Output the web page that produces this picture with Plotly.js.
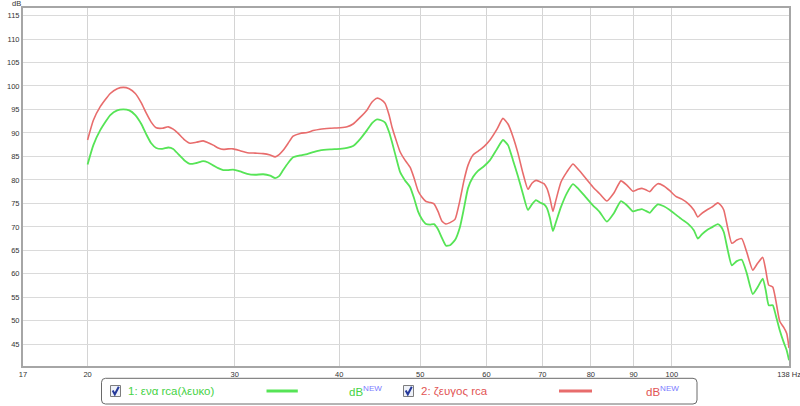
<!DOCTYPE html>
<html><head><meta charset="utf-8">
<script src="https://cdn.plot.ly/plotly-3.0.1.min.js"></script>
<style>html,body{margin:0;padding:0;background:#fff}#chart{width:800px;height:406px}</style>
</head><body><div id="chart"></div>
<script>
// Frequency (Hz)
const freq = [20.00,20.32,20.71,21.29,21.70,22.07,22.43,22.81,23.19,23.51,
23.83,24.16,24.57,24.98,25.32,25.67,26.10,26.53,26.98,27.50,
27.88,28.27,28.66,29.06,29.46,29.87,30.45,31.04,31.73,32.44,
33.07,33.53,33.90,34.28,34.75,35.23,35.92,36.62,37.23,37.95,
39.01,40.10,40.88,41.56,42.37,43.19,43.79,44.40,44.89,45.39,
45.89,46.27,46.78,47.30,47.95,48.62,49.16,49.70,50.25,50.81,
51.37,51.94,52.51,53.10,53.68,54.28,55.03,55.79,56.41,57.03,
57.83,58.63,59.60,60.60,61.78,62.80,63.68,64.56,65.45,66.36,
67.28,68.02,68.78,69.54,70.31,70.89,71.48,72.07,72.67,73.67,
74.90,76.15,77.41,78.92,80.46,82.02,83.62,85.25,86.91,88.35,
89.82,91.07,92.08,93.10,94.13,95.17,96.22,97.83,99.45,101.11,
102.80,104.51,106.25,107.42,108.61,110.12,111.64,113.50,114.45,115.39,
116.67,117.96,119.60,121.25,122.94,124.98,126.71,128.47,129.53,130.61,
132.05,133.15,134.62,136.11,137.24,138.11];

// 1: ενα rca(λευκο)  (dB)
const series1 = [83.3,87.4,90.6,93.8,94.8,95.0,94.8,93.8,91.9,89.7,
87.8,86.8,86.6,86.9,86.6,85.5,84.2,83.4,83.6,84.0,
83.7,83.1,82.5,82.1,82.1,82.2,81.8,81.3,81.1,81.2,
80.9,80.4,80.8,82.1,83.6,84.8,85.2,85.5,85.9,86.3,
86.5,86.6,86.8,87.2,88.7,90.6,92.1,92.9,92.7,92.2,
90.2,88.0,84.8,81.7,79.9,78.5,76.1,73.3,71.6,70.6,
70.5,70.6,69.5,67.6,66.0,66.1,67.2,70.0,74.0,78.2,
80.6,81.9,82.9,84.2,86.6,88.5,87.4,84.2,80.8,77.0,
73.6,74.8,75.7,75.2,74.8,74.0,71.9,69.1,71.0,74.2,
77.2,79.1,78.0,76.3,74.6,73.1,71.1,72.9,75.5,74.6,
73.3,73.6,73.8,73.4,73.0,74.0,74.8,74.4,73.6,72.6,
71.6,70.7,69.3,67.5,68.4,69.3,69.9,70.6,70.1,68.9,
65.0,61.8,62.7,63.0,60.1,55.7,57.2,59.0,56.5,53.3,
53.3,51.2,48.0,45.4,43.7,41.6];

// 2: ζευγος rca  (dB)
const series2 = [88.5,92.7,95.6,98.4,99.4,99.7,99.4,98.4,96.4,94.2,
92.3,91.1,91.0,91.3,90.8,89.9,88.6,87.8,88.0,88.3,
87.9,87.4,86.8,86.5,86.6,86.6,86.2,85.8,85.7,85.6,
85.3,84.9,85.4,86.3,87.8,89.3,89.9,90.1,90.5,90.8,
91.0,91.1,91.3,91.9,93.3,94.9,96.6,97.4,97.1,96.3,
93.8,91.2,88.5,86.0,84.2,82.7,80.4,77.7,76.3,75.4,
75.2,74.9,73.3,71.2,70.6,70.9,71.6,75.7,79.9,83.1,
85.3,86.1,87.1,88.5,90.8,93.1,91.9,89.2,85.7,81.4,
78.0,79.3,79.9,79.6,79.2,78.2,76.1,73.3,75.7,79.5,
81.7,83.4,82.1,80.3,78.5,77.0,75.5,77.2,79.8,78.9,
77.6,78.0,78.2,77.9,77.5,78.5,79.2,78.7,77.7,76.5,
75.9,75.0,73.6,72.1,72.9,73.6,74.2,75.1,74.6,73.6,
69.7,66.5,67.2,67.5,64.6,60.8,62.3,63.5,60.8,57.6,
57.2,54.4,49.9,48.6,47.3,44.2];

const seriesNames = ['1: ενα rca(λευκο)', '2: ζευγος rca'];
const unitLabel = 'dB<sup><span style="color:#7a7aff">NEW</span></sup>';
const xTickVals = [16.74, 20, 30, 40, 50, 60, 70, 80, 90, 100, 138.1];
const xTickText = ['17', '20', '30', '40', '50', '60', '70', '80', '90', '100', '138 Hz'];
const yTickVals = [45, 50, 55, 60, 65, 70, 75, 80, 85, 90, 95, 100, 105, 110, 115];

const GREEN = 'rgb(86,228,86)', RED = 'rgb(232,108,108)';
const GREEN_T = 'rgb(70,210,70)', RED_T = 'rgb(226,84,84)';

const W = 800, H = 406, L = 23, R = 11, T = 8, B = 40;
const pw = W - L - R, ph = H - T - B;
const PX = x => (x - L) / pw;
const PY = y => (H - B - y) / ph;

function roundRect(x1, y1, x2, y2, r) {
  const a = (x, y) => PX(x) + ',' + PY(y);
  return 'M' + a(x1 + r, y1) + ' L' + a(x2 - r, y1) + ' Q' + a(x2, y1) + ' ' + a(x2, y1 + r) +
    ' L' + a(x2, y2 - r) + ' Q' + a(x2, y2) + ' ' + a(x2 - r, y2) +
    ' L' + a(x1 + r, y2) + ' Q' + a(x1, y2) + ' ' + a(x1, y2 - r) +
    ' L' + a(x1, y1 + r) + ' Q' + a(x1, y1) + ' ' + a(x1 + r, y1) + ' Z';
}
function checkbox(x) {
  return [
    {type: 'rect', xref: 'paper', yref: 'paper', x0: PX(x), x1: PX(x + 10), y0: PY(385.5), y1: PY(396.5),
     line: {color: '#7d7d7d', width: 1}, fillcolor: '#eef1f8'},
    {type: 'path', xref: 'paper', yref: 'paper',
     path: 'M' + PX(x + 2.2) + ',' + PY(390.5) + ' L' + PX(x + 4.3) + ',' + PY(394.3) + ' L' + PX(x + 8.3) + ',' + PY(386.8),
     line: {color: '#25399a', width: 2}}
  ];
}

const shapes = [
  {type: 'path', xref: 'paper', yref: 'paper', path: roundRect(101.5, 378.3, 697, 404, 4),
   line: {color: '#6a6a6a', width: 1}, fillcolor: 'rgba(0,0,0,0)'},
  ...checkbox(110.5), ...checkbox(403.5),
  {type: 'line', xref: 'paper', yref: 'paper', x0: PX(266.5), x1: PX(297.8), y0: PY(391), y1: PY(391),
   line: {color: GREEN, width: 3}},
  {type: 'line', xref: 'paper', yref: 'paper', x0: PX(559), x1: PX(592), y0: PY(391), y1: PY(391),
   line: {color: RED, width: 3}}
];

const legFont = {family: 'Liberation Sans, Arial, sans-serif', size: 11.5};
const annotations = [
  {xref: 'paper', yref: 'paper', x: PX(126), y: PY(391), xanchor: 'left', yanchor: 'middle', showarrow: false,
   text: seriesNames[0], font: Object.assign({}, legFont, {color: GREEN_T})},
  {xref: 'paper', yref: 'paper', x: PX(347), y: PY(391), xanchor: 'left', yanchor: 'middle', showarrow: false,
   text: unitLabel, font: Object.assign({}, legFont, {color: GREEN_T})},
  {xref: 'paper', yref: 'paper', x: PX(419), y: PY(391), xanchor: 'left', yanchor: 'middle', showarrow: false,
   text: seriesNames[1], font: Object.assign({}, legFont, {color: RED_T})},
  {xref: 'paper', yref: 'paper', x: PX(644), y: PY(391), xanchor: 'left', yanchor: 'middle', showarrow: false,
   text: unitLabel, font: Object.assign({}, legFont, {color: RED_T})},
  {xref: 'paper', yref: 'paper', x: PX(16.5), y: PY(3.5), xanchor: 'center', yanchor: 'middle', showarrow: false,
   text: 'dB', font: {family: 'Liberation Sans, Arial, sans-serif', size: 7.5, color: '#333'}}
];

const traces = [
  {x: freq, y: series1, type: 'scatter', mode: 'lines', name: seriesNames[0],
   line: {color: GREEN, width: 1.8, shape: 'spline', smoothing: 0.5}},
  {x: freq, y: series2, type: 'scatter', mode: 'lines', name: seriesNames[1],
   line: {color: RED, width: 1.6, shape: 'spline', smoothing: 0.5}}
];

const tickFont = {family: 'Liberation Sans, Arial, sans-serif', size: 7.5, color: '#333'};
const layout = {
  width: W, height: H,
  margin: {l: L, r: R, t: T, b: B, pad: 0},
  paper_bgcolor: '#fff', plot_bgcolor: '#fff',
  showlegend: false, hovermode: false,
  xaxis: {type: 'log', range: [Math.log10(16.74), Math.log10(138.1)],
    tickmode: 'array', tickvals: xTickVals, ticktext: xTickText,
    showgrid: true, gridcolor: '#d4d4d4', gridwidth: 1, zeroline: false,
    showline: true, linecolor: '#a6a6a6', linewidth: 2, mirror: true,
    ticks: '', tickfont: tickFont, ticklabeloverflow: 'allow', fixedrange: true},
  yaxis: {range: [40.38, 116.6], tickmode: 'array', tickvals: yTickVals,
    showgrid: true, gridcolor: '#dadada', gridwidth: 1, zeroline: false,
    showline: true, linecolor: '#a6a6a6', linewidth: 2, mirror: true,
    ticks: '', tickfont: tickFont, fixedrange: true},
  shapes: shapes, annotations: annotations
};

Plotly.newPlot('chart', traces, layout, {staticPlot: true, displayModeBar: false});
</script></body></html>
